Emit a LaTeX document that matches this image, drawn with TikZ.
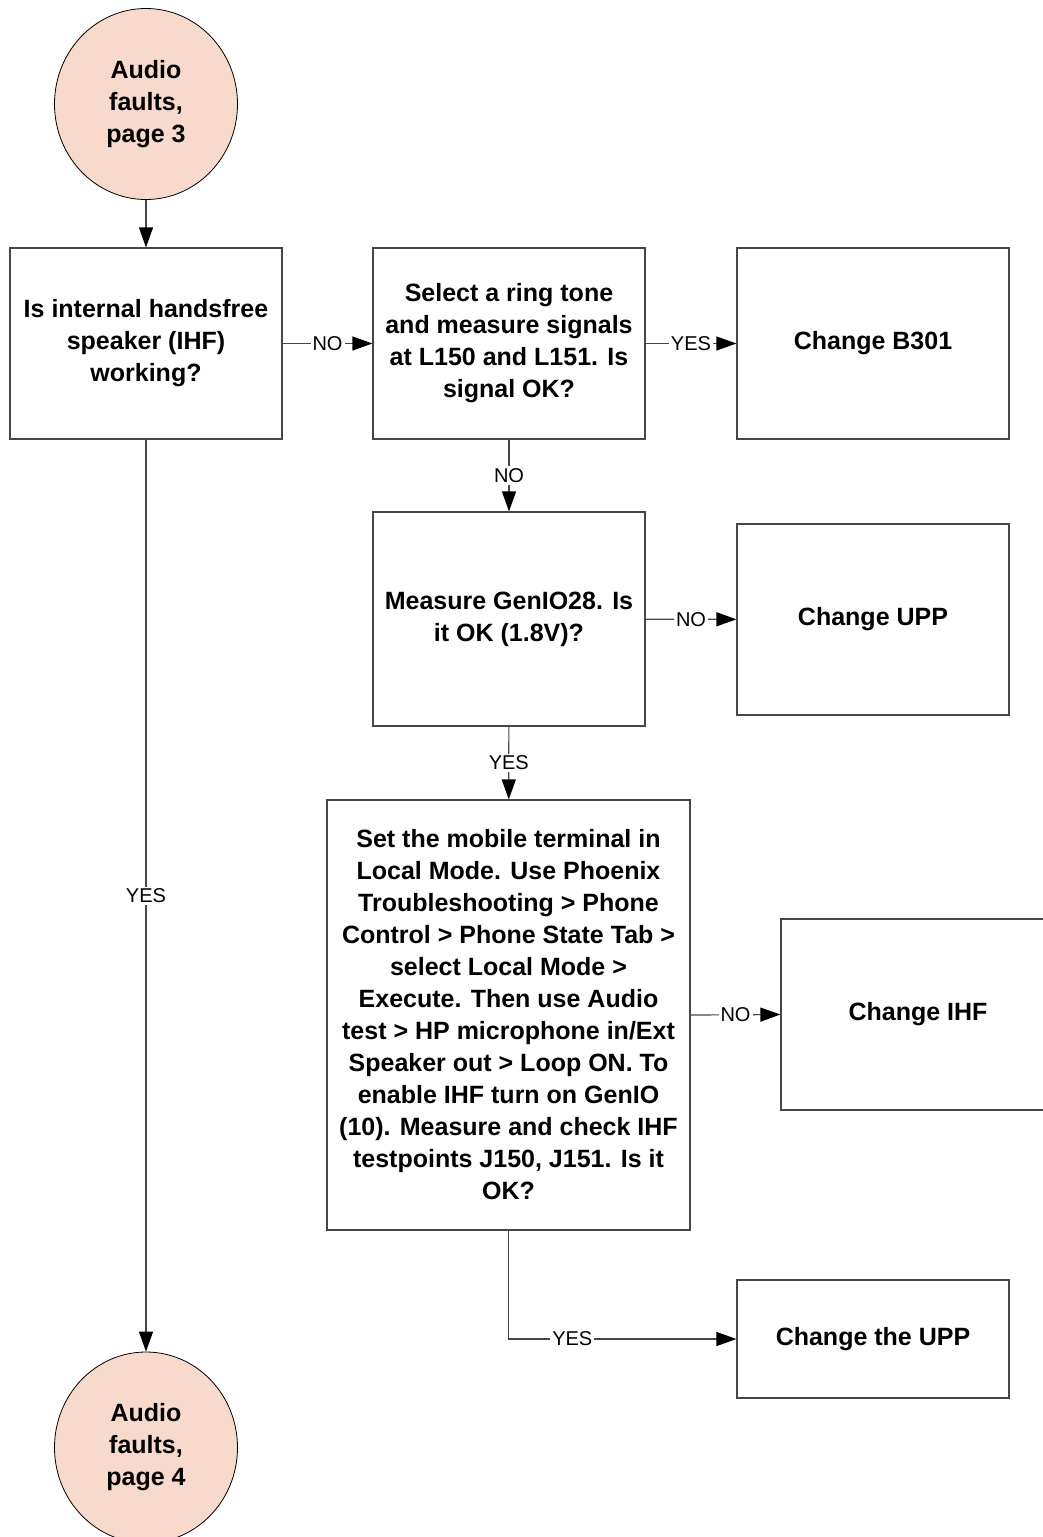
\documentclass[tikz,border=0pt]{standalone}
\usepackage{fontspec}
\setmainfont{Liberation Sans}
\usetikzlibrary{arrows.meta,shapes.geometric}
\definecolor{edgegray}{RGB}{70,70,70}
\definecolor{wiregray}{RGB}{70,70,70}
\definecolor{termfill}{RGB}{248,218,205}
\begin{document}
\begin{tikzpicture}[x=1pt,y=-1pt,
  stepbox/.style={draw=edgegray, line width=1.2pt, fill=white, minimum width=272pt,
    minimum height=191pt, inner sep=0pt, align=center,
    font=\bfseries\fontsize{25}{32}\selectfont},
  term/.style={ellipse, draw=black, line width=0.8pt, fill=termfill, inner sep=0pt,
    minimum width=183pt, minimum height=191pt,
    align=center, font=\bfseries\fontsize{25}{32}\selectfont},
  conn/.style={draw=wiregray, line width=1.2pt,
    -{Triangle[length=20pt,width=14pt,color=black]}},
  lbl/.style={fill=white, inner sep=2pt, font=\fontsize{20}{24}\selectfont}
]
\useasboundingbox (0,0) rectangle (1042,1537);

% terminators
\node[term] (start) at (146,104) {Audio\\faults,\\page 3};
\node[term] (stop) at (146,1447.5) {Audio\\faults,\\page 4};

% process and decision boxes
\node[stepbox] (ihf) at (146,343.5) {Is internal handsfree\\speaker (IHF)\\working?};
\node[stepbox] (ring) at (509,343.5) {Select a ring tone\\and measure signals\\at L150 and L151. Is\\signal OK?};
\node[stepbox] (b301) at (873,343.5) {Change B301};
\node[stepbox, minimum height=214pt] (genio) at (509,619) {Measure GenIO28. Is\\it OK (1.8V)?};
\node[stepbox] (upp) at (873,619.5) {Change UPP};
\node[stepbox, minimum width=363pt, minimum height=430pt] (local) at (508.5,1015)
  {Set the mobile terminal in\\Local Mode. Use Phoenix\\Troubleshooting > Phone\\Control > Phone State Tab >\\select Local Mode >\\Execute. Then use Audio\\test > HP microphone in/Ext\\Speaker out > Loop ON. To\\enable IHF turn on GenIO\\(10). Measure and check IHF\\testpoints J150, J151. Is it\\OK?};
\node[stepbox, minimum width=274pt] (chihf) at (918,1014.5) {Change IHF};
\node[stepbox, minimum height=118pt] (theupp) at (873,1339) {Change the UPP};

% connectors
\draw[conn] (start) -- (ihf);
\draw[conn] (ihf) -- node[lbl]{NO} (ring);
\draw[conn] (ring) -- node[lbl]{YES} (b301);
\draw[conn] (ring) -- node[lbl]{NO} (genio);
\draw[conn] (genio) -- node[lbl]{NO} (upp);
\draw[conn] (genio) -- node[lbl]{YES} (local);
\draw[conn] (local.east) -- node[lbl]{NO} (chihf.west);
\draw[conn] (local.south) |- node[lbl, pos=0.64]{YES} (theupp.west);
\draw[conn] (ihf) -- node[lbl]{YES} (stop);
\end{tikzpicture}
\end{document}
